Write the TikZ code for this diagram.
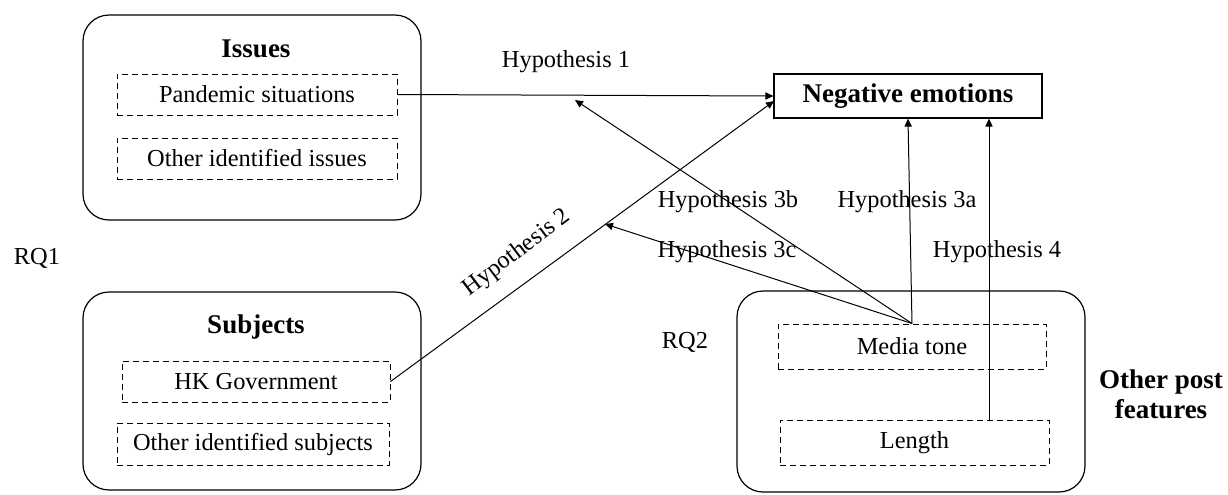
\documentclass[tikz,border=0pt]{standalone}
\usepackage{fontspec}
\setmainfont{Liberation Serif}
\usetikzlibrary{arrows.meta}
\begin{document}
\begin{tikzpicture}[x=0.5pt,y=-0.5pt,
  outerbox/.style={draw, line width=0.6pt, rounded corners=13pt, inner sep=0pt},
  dbox/.style={draw, dashed, dash pattern=on 3pt off 2pt, line width=0.5pt, inner sep=0pt, font=\fontsize{12.2}{14}\selectfont},
  sbox/.style={draw, line width=0.6pt, inner sep=0pt, font=\fontsize{13.5}{16}\selectfont\bfseries},
  lbl/.style={font=\fontsize{12.2}{14}\selectfont, inner sep=0pt},
  hd/.style={font=\fontsize{13.5}{16}\selectfont\bfseries, inner sep=0pt},
  arr/.style={line width=0.5pt, -{Triangle[length=4pt,width=3.6pt]}}]
\useasboundingbox (0,0) rectangle (1228,494);
% outer boxes
\node[outerbox, minimum width=169pt, minimum height=102.5pt] (issues) at (252,117.5) {};
\node[outerbox, minimum width=169pt, minimum height=99pt] (subjects) at (252,391) {};
\node[outerbox, minimum width=174pt, minimum height=100.5pt] (other) at (911,391.5) {};
% headings
\node[hd] (issuesT) at (256,49) {Issues};
\node[hd] (subjectsT) at (256,327) {Subjects};
\node[hd, align=center] (otherT) at (1161,394) {Other post\\[-1pt]features};
% inner dashed boxes
\node[dbox, minimum width=140pt, minimum height=20.5pt] (pand) at (257,94.5) {Pandemic situations};
\node[dbox, minimum width=140pt, minimum height=20.5pt] (oissues) at (257,158.5) {Other identified issues};
\node[dbox, minimum width=134pt, minimum height=20.5pt] (hk) at (256,381.5) {HK Government};
\node[dbox, minimum width=136pt, minimum height=21pt] (osubj) at (253,444) {Other identified subjects};
\node[dbox, minimum width=134pt, minimum height=22.5pt] (mt) at (912,346.5) {Media tone};
\node[dbox, minimum width=134.5pt, minimum height=22.5pt] (len) at (914.5,442.5) {Length};
% target
\node[sbox, minimum width=134pt, minimum height=22pt] (neg) at (908,96) {Negative emotions};
% RQ labels
\node[lbl] (rq1) at (37,258) {RQ1};
\node[lbl] (rq2) at (685,342) {RQ2};
% connector end points
\coordinate (h2end) at (774,101);
\coordinate (h3bend) at (575,100);
\coordinate (h3cend) at (605,224);
% arrows
\draw[arr] (pand.east) -- (neg.west);
\draw[arr] (hk.east) -- (h2end);
\draw[arr] (mt.north) -- (h3bend);
\draw[arr] (mt.north) -- (h3cend);
\draw[arr] (mt.north) -- (neg.south);
\draw[arr] (len.north -| 989,0) -- (neg.south -| 989,0);
% hypothesis labels
\node[lbl] (h1) at (566,62) {Hypothesis 1};
\node[lbl, rotate=37] (h2) at (517,253) {Hypothesis 2};
\node[lbl] (h3b) at (728,202) {Hypothesis 3b};
\node[lbl] (h3c) at (727,252) {Hypothesis 3c};
\node[lbl] (h3a) at (907,202) {Hypothesis 3a};
\node[lbl] (h4) at (997,252) {Hypothesis 4};
\end{tikzpicture}
\end{document}
